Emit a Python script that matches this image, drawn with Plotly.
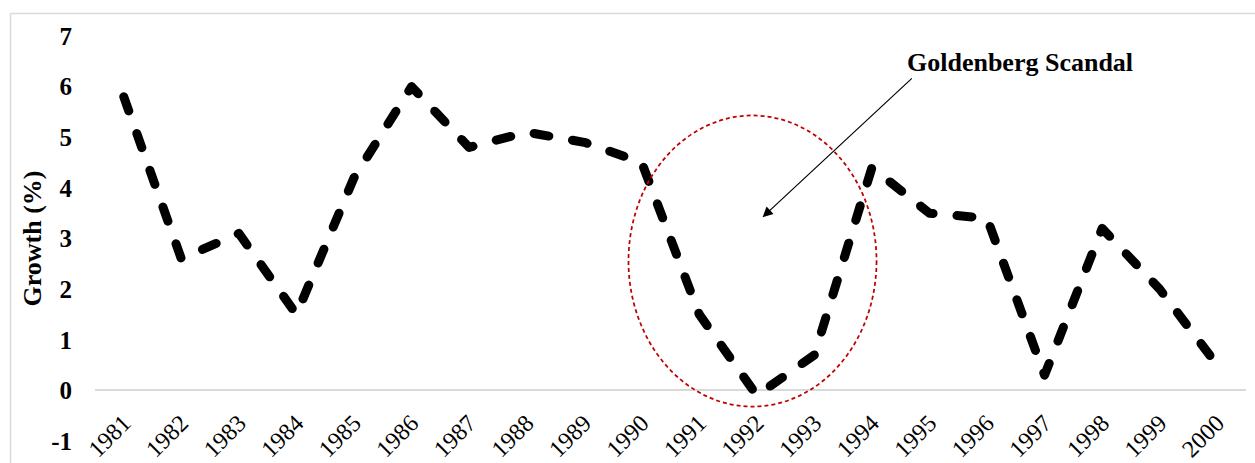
import plotly.graph_objects as go

years = [1981, 1982, 1983, 1984, 1985, 1986, 1987, 1988, 1989, 1990,
         1991, 1992, 1993, 1994, 1995, 1996, 1997, 1998, 1999, 2000]
year_labels = [str(y) for y in years]
growth = [5.8, 2.6, 3.1, 1.5, 4.2, 6.0, 4.8, 5.1, 4.9, 4.5,
          1.5, -0.1, 0.7, 4.4, 3.5, 3.4, 0.3, 3.2, 2.0, 0.5]
y_ticks = [-1, 0, 1, 2, 3, 4, 5, 6, 7]
y_tick_labels = ["-1", "0", "1", "2", "3", "4", "5", "6", "7"]
annotation_text = "Goldenberg Scandal"
y_title = "Growth (%)"

FONT = "Liberation Serif, Times New Roman, serif"

fig = go.Figure()
fig.add_trace(go.Scatter(
    x=years, y=growth, mode="lines",
    line=dict(color="black", width=9, dash="15px,24px"),
    showlegend=False, hoverinfo="skip",
))

# ellipse highlighting the scandal period
fig.add_shape(type="circle", xref="x", yref="y",
              x0=1989.77, x1=1994.08, y0=-0.32, y1=5.43,
              line=dict(color="#C00000", width=1.75, dash="4px,3px"))

# chart border (top and left visible)
fig.add_shape(type="line", xref="paper", yref="paper",
              x0=-0.0734, x1=1.02, y0=1.0556, y1=1.0556,
              line=dict(color="#d9d9d9", width=1.5))
fig.add_shape(type="line", xref="paper", yref="paper",
              x0=-0.0734, x1=-0.0734, y0=1.0556, y1=-0.07,
              line=dict(color="#d9d9d9", width=1.5))

fig.add_annotation(x=1992.1, y=3.42, ax=1994.72, ay=6.19,
                   xref="x", yref="y", axref="x", ayref="y",
                   text="", showarrow=True, arrowhead=2, arrowsize=1.7,
                   arrowwidth=1.2, arrowcolor="black")
fig.add_annotation(x=1996.58, y=6.48, xref="x", yref="y",
                   text=annotation_text, showarrow=False,
                   xanchor="center", yanchor="middle",
                   font=dict(family=FONT, size=26, color="black", weight="bold"))

fig.update_layout(
    width=1255, height=463,
    margin=dict(l=95, r=9, t=36, b=22, autoexpand=False),
    paper_bgcolor="white", plot_bgcolor="white",
    xaxis=dict(
        range=[1980.5, 2000.5], tickmode="array",
        tickvals=years, ticktext=year_labels, tickangle=-45,
        showgrid=False, zeroline=False, showline=False, ticks="",
        anchor="free", position=0.125, automargin=False,
        ticklabelstandoff=13,
        tickfont=dict(family=FONT, size=24, color="black"),
    ),
    yaxis=dict(
        range=[-1, 7], tickmode="array", tickvals=y_ticks, ticktext=y_tick_labels,
        showgrid=False, zeroline=True, zerolinecolor="#d9d9d9", zerolinewidth=1.5,
        showline=False, ticks="", ticklabelstandoff=22, automargin=False,
        tickfont=dict(family=FONT, size=25, color="black", weight="bold"),
        title=dict(text=y_title, standoff=2,
                   font=dict(family=FONT, size=26, color="black", weight="bold")),
    ),
)

post = """
document.body.style.margin='0';
document.body.style.overflow='hidden';
document.querySelectorAll('.scatterlayer .js-line').forEach(function(p){
  p.style.strokeLinecap='round'; p.style.strokeLinejoin='round';
});
"""
fig.write_html("out.html", post_script=post, config={"displayModeBar": False})
